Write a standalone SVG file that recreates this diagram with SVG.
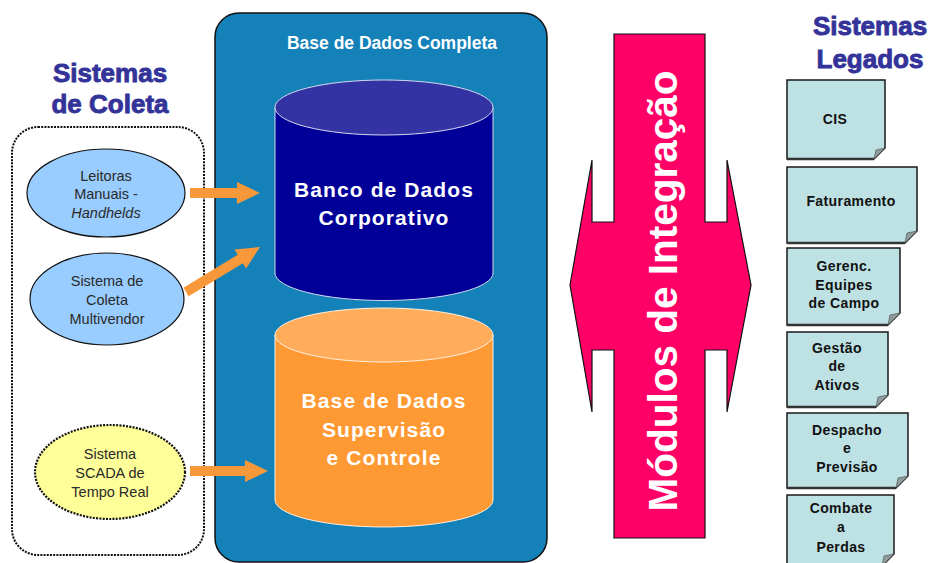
<svg xmlns="http://www.w3.org/2000/svg" width="932" height="563" viewBox="0 0 932 563">
  <style>
    .title { font-family: "Liberation Sans", Arial, sans-serif; font-weight: bold; font-size: 26px; fill: #333399; stroke: #333399; stroke-width: 0.9px; text-anchor: middle; }
    .oval-text { font-family: "Liberation Sans", Arial, sans-serif; font-size: 14.5px; fill: #2a2a2a; text-anchor: middle; }
    .db-text { font-family: "Liberation Sans", Arial, sans-serif; font-weight: bold; font-size: 21px; fill: #ffffff; text-anchor: middle; letter-spacing: 1.1px; }
    .box-text { font-family: "Liberation Sans", Arial, sans-serif; font-weight: bold; font-size: 14px; fill: #111111; text-anchor: middle; letter-spacing: 0.4px; }
    .legacy { fill: #BEE1E4; stroke: #1a1a1a; stroke-width: 1.5; }
    .shade { fill: none; stroke: #333; stroke-width: 2.5; }
    .fold { fill: #8E9C9C; stroke: #444; stroke-width: 0.6; }
    .flow { fill: #F7993A; }
  </style>

  <!-- column headings -->
  <g id="heading-coleta">
    <text class="title" x="110" y="82">Sistemas</text>
    <text class="title" x="110" y="113">de Coleta</text>
  </g>
  <g id="heading-legados">
    <text class="title" x="870" y="35">Sistemas</text>
    <text class="title" x="870" y="68">Legados</text>
  </g>

  <!-- collection systems frame -->
  <g id="coleta-frame">
    <rect x="12" y="127" width="192" height="428" rx="26" ry="26" fill="none" stroke="#111" stroke-width="2" stroke-dasharray="2 1.2"/>
  </g>

  <g id="leitoras">
    <ellipse cx="106" cy="193" rx="79" ry="44" fill="#99CCFF" stroke="#111" stroke-width="1.2"/>
    <text class="oval-text" x="106" y="181">Leitoras</text>
    <text class="oval-text" x="106" y="199">Manuais -</text>
    <text class="oval-text" x="106" y="218" font-style="italic">Handhelds</text>
  </g>

  <g id="multivendor">
    <ellipse cx="107" cy="299" rx="77" ry="46" fill="#99CCFF" stroke="#111" stroke-width="1.2"/>
    <text class="oval-text" x="107" y="286">Sistema de</text>
    <text class="oval-text" x="107" y="305">Coleta</text>
    <text class="oval-text" x="107" y="324">Multivendor</text>
  </g>

  <g id="scada">
    <ellipse cx="110" cy="472" rx="75" ry="47" fill="#FFFF99" stroke="#111" stroke-width="2.2" stroke-dasharray="2 1.3"/>
    <text class="oval-text" x="110" y="459">Sistema</text>
    <text class="oval-text" x="110" y="478">SCADA de</text>
    <text class="oval-text" x="110" y="497">Tempo Real</text>
  </g>

  <!-- complete database container -->
  <g id="base-completa">
    <rect x="215" y="13" width="332" height="549" rx="24" ry="24" fill="#1581B9" stroke="#111" stroke-width="1.5"/>
    <text x="392" y="49" font-family="'Liberation Sans', Arial, sans-serif" font-weight="bold" font-size="17.5" fill="#ffffff" text-anchor="middle">Base de Dados Completa</text>
  </g>

  <g id="banco-corporativo">
    <path d="M275,107.5 V273 A109,27.5 0 0 0 493,273 V107.5 Z" fill="#000099" stroke="#d8d8f0" stroke-width="1"/>
    <ellipse cx="384" cy="107.5" rx="109" ry="27.5" fill="#3333A3" stroke="#d8d8f0" stroke-width="1"/>
    <text class="db-text" x="384" y="197">Banco de Dados</text>
    <text class="db-text" x="384" y="225">Corporativo</text>
  </g>

  <g id="base-supervisao">
    <path d="M275,335 V500 A109,27 0 0 0 493,500 V335 Z" fill="#FF9933" stroke="#fff0e0" stroke-width="1"/>
    <ellipse cx="384" cy="335" rx="109" ry="27" fill="#FFAD5B" stroke="#fff0e0" stroke-width="1"/>
    <text class="db-text" x="384" y="408">Base de Dados</text>
    <text class="db-text" x="384" y="437">Supervisão</text>
    <text class="db-text" x="384" y="465">e Controle</text>
  </g>

  <!-- integration modules: vertical bar crossed by a double-headed arrow -->
  <g id="modulos-integracao">
    <path d="M614,34 H705 V222 H727 V160 L751,285 L727,412 V350 H705 V538 H614 V350 H592 V412 L570,285 L592,160 V222 H614 Z" fill="#FF0066" stroke="#111" stroke-width="1.2" stroke-linejoin="miter"/>
    <text transform="translate(677,291) rotate(-90)" x="0" y="0" font-family="'Liberation Sans', Arial, sans-serif" font-weight="bold" font-size="40.5" fill="#ffffff" text-anchor="middle">Módulos de Integração</text>
  </g>

  <!-- legacy systems (sticky notes with a folded corner) -->
  <g id="cis">
    <path class="legacy" d="M787,80 H885 V148 L874,159 H787 Z"/>
    <path class="shade" d="M787,159 H874"/>
    <path class="fold" d="M885,148 L874,159 L876,150 Z"/>
    <text class="box-text" x="835" y="124">CIS</text>
  </g>
  <g id="faturamento">
    <path class="legacy" d="M787,167 H917 V231 L905,243 H787 Z"/>
    <path class="shade" d="M787,243 H905"/>
    <path class="fold" d="M917,231 L905,243 L907,233 Z"/>
    <text class="box-text" x="851" y="206">Faturamento</text>
  </g>
  <g id="gerenc-equipes">
    <path class="legacy" d="M787,248 H900 V313 L888,325 H787 Z"/>
    <path class="shade" d="M787,325 H888"/>
    <path class="fold" d="M900,313 L888,325 L890,315 Z"/>
    <text class="box-text" x="844" y="271">Gerenc.</text>
    <text class="box-text" x="844" y="290">Equipes</text>
    <text class="box-text" x="844" y="308">de Campo</text>
  </g>
  <g id="gestao-ativos">
    <path class="legacy" d="M787,332 H888 V395 L876,407 H787 Z"/>
    <path class="shade" d="M787,407 H876"/>
    <path class="fold" d="M888,395 L876,407 L878,397 Z"/>
    <text class="box-text" x="837" y="353">Gestão</text>
    <text class="box-text" x="837" y="371">de</text>
    <text class="box-text" x="837" y="390">Ativos</text>
  </g>
  <g id="despacho-previsao">
    <path class="legacy" d="M787,413 H908 V476 L896,488 H787 Z"/>
    <path class="shade" d="M787,488 H896"/>
    <path class="fold" d="M908,476 L896,488 L898,478 Z"/>
    <text class="box-text" x="847" y="435">Despacho</text>
    <text class="box-text" x="847" y="453">e</text>
    <text class="box-text" x="847" y="472">Previsão</text>
  </g>
  <g id="combate-perdas">
    <path class="legacy" d="M787,495 H894 V554 L882,566 H787 Z"/>
    <path class="fold" d="M894,554 L882,566 L884,556 Z"/>
    <text class="box-text" x="841" y="513">Combate</text>
    <text class="box-text" x="841" y="532">a</text>
    <text class="box-text" x="841" y="552">Perdas</text>
  </g>

  <!-- data flows into the database -->
  <g id="connectors">
    <path class="flow" d="M190,188 H237 V182 L260,193 L237,204 V198 H190 Z"/>
    <path class="flow" d="M183.4,287.7 L237.75,254.7 L234.6,249.5 L260,247 L246.1,268.4 L242.95,263.2 L188.6,296.3 Z"/>
    <path class="flow" d="M190,466 H245 V460 L268,471 L245,482 V476 H190 Z"/>
  </g>
</svg>
